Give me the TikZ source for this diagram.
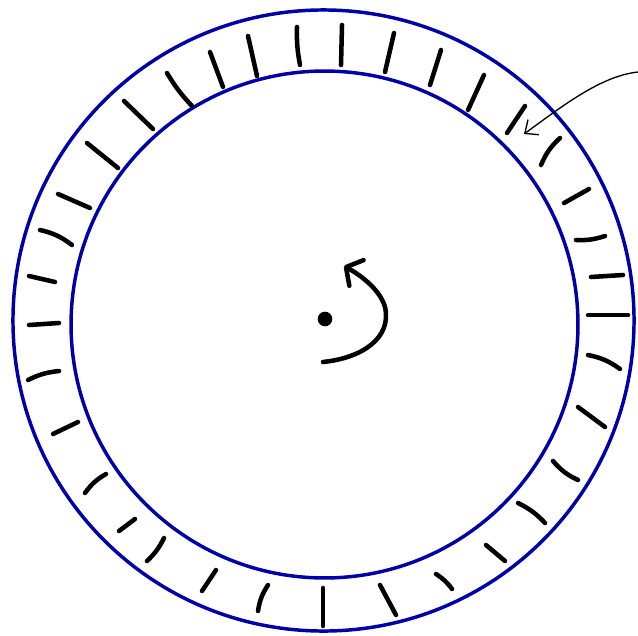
\documentclass[tikz,border=0pt]{standalone}
\usetikzlibrary{arrows.meta}
\definecolor{azulanillo}{HTML}{0000A8}
\colorlet{colAnillo}{azulanillo}
\colorlet{colTrazo}{black}
\tikzset{
  anillo/.style={draw=colAnillo, line width=2.6pt},
  marca/.style={draw=colTrazo, line width=3.4pt, line cap=round},
  flechaGiro/.style={-{Straight Barb[length=9pt, width=22pt, round]},
    line width=3.4pt, line cap=round, colTrazo},
  flechaFina/.style={-{Straight Barb[length=8pt, width=14pt]}, line width=1pt, colTrazo},
}

\begin{document}
\begin{tikzpicture}[x=0.75pt, y=-0.75pt]
  \useasboundingbox (0,0) rectangle (638,635);
  \coordinate (centroExt) at (323.5,320.5);
  \coordinate (centroInt) at (324.5,324.5);
  \draw[anillo] (centroExt) circle[radius=232.9pt];
  \draw[anillo] (centroInt) circle[radius=190.1pt];
  % marcas entre los dos anillos
  \foreach \xa/\ya/\xb/\yb/\b in {
      297/27/300/65/-6, 248/36/257/76/0, 210/52/223/87/0, 167/73/192/106/-6,
      124/101/153/129/0, 87/143/118/168/0, 58/194/90/208/0, 40/230/72/245/12,
      29/276/55/282/0, 29/325/59/323/0, 28/380/59/371/10, 53/434/78/422/0,
      85/493/106/474/12, 119/531/135/519/0, 147/561/164/538/-10, 202/591/216/570/0,
      258/611/268/585/12, 323/588/323/626/0, 380/585/396/615/0, 436/574/452/589/10,
      486/545/505/561/0, 518/503/545/523/10, 553/461/578/480/-12, 578/407/605/427/0,
      588/355/620/369/12, 588/315/628/315/0, 591/277/623/275/0, 576/240/605/236/-10,
      564/203/589/189/0, 541/165/560/138/12, 507/133/525/106/0, 468/110/484/75/0,
      430/85/441/50/0, 385/72/394/33/0, 341/65/342/25/0}
    \draw[marca] (\xa,\ya) to[bend left=\b] (\xb,\yb);
  % eje y sentido de giro
  \fill[colTrazo] (325,319) circle[radius=5.5pt];
  \coordinate (giroIni) at (323,362);
  \coordinate (giroFin) at (344,266);
  \draw[flechaGiro] (giroIni) .. controls (362,358) and (392,338) .. (385,307)
    .. controls (380,290) and (362,276) .. (giroFin);
  % flecha hacia una marca
  \coordinate (notaIni) at (638,72);
  \coordinate (notaFin) at (524,134);
  \draw[flechaFina] (notaIni) .. controls (600,76) and (560,108) .. (notaFin);
\end{tikzpicture}
\end{document}
